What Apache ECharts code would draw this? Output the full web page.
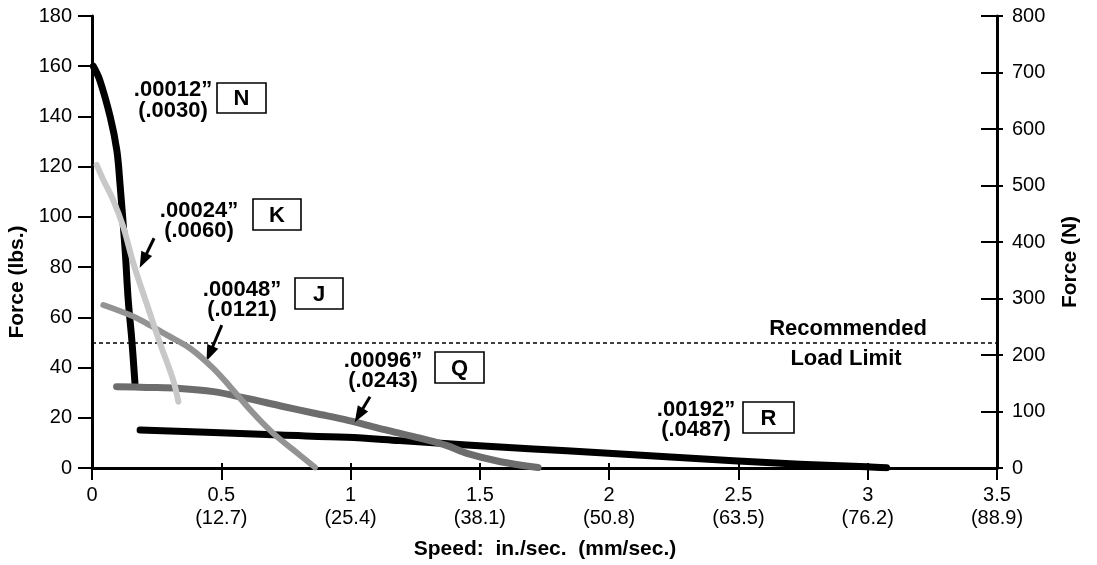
<!DOCTYPE html>
<html>
<head>
<meta charset="utf-8">
<script src="https://cdn.jsdelivr.net/npm/echarts@6/dist/echarts.min.js"></script>
<style>
html,body{margin:0;padding:0;background:#fff;}
#chart{width:1097px;height:565px;}
</style>
</head>
<body>
<div id="chart"></div>
<script>
// ---- data (speed in./sec., force lbs.) ----
const xTicks = [0, 0.5, 1, 1.5, 2, 2.5, 3, 3.5];
const xTicksMm = ['', '(12.7)', '(25.4)', '(38.1)', '(50.8)', '(63.5)', '(76.2)', '(88.9)'];
const seriesN = [[0.005,160],[0.03,154.5],[0.07,140],[0.096,126.5],[0.108,113.5],[0.128,87],[0.14,67],[0.154,51],[0.166,34]];
const seriesK = [[0.018,120.7],[0.044,114.7],[0.082,106.7],[0.121,96],[0.16,81.5],[0.211,65.6],[0.263,49.7],[0.314,35],[0.334,26.4]];
const seriesJ = [[0.044,64.9],[0.147,60.9],[0.211,57.6],[0.289,53],[0.379,47.7],[0.469,39.7],[0.534,32.4],[0.624,21.8],[0.701,13.8],[0.779,7.2],[0.862,0.3]];
const seriesQ = [[0.095,32.4],[0.21,32.1],[0.34,31.7],[0.47,30.4],[0.6,27.7],[0.73,24.7],[0.86,21.8],[0.99,19],[1.11,15.8],[1.24,12.6],[1.37,9],[1.45,5.8],[1.58,2.5],[1.725,0.2]];
const seriesR = [[0.186,15.1],[0.469,14.1],[0.727,13.1],[0.985,12.2],[1.19,10.9],[1.449,9.2],[1.707,7.6],[1.965,6.1],[2.222,4.5],[2.48,2.9],[2.738,1.5],[2.996,0.5],[3.073,0.1]];
const loadLimit = 50;
// arrows: [tail, head-centre]
const arrowK = [[0.240,91.5],[0.198,82.6]];
const arrowJ = [[0.502,56.9],[0.455,45.5]];
const arrowQ = [[1.075,28.4],[1.032,21.0]];
const labels = [
  {top: '.00012\u201D', bottom: '(.0030)', code: 'N'},
  {top: '.00024\u201D', bottom: '(.0060)', code: 'K'},
  {top: '.00048\u201D', bottom: '(.0121)', code: 'J'},
  {top: '.00096\u201D', bottom: '(.0243)', code: 'Q'},
  {top: '.00192\u201D', bottom: '(.0487)', code: 'R'}
];

const FONT = '"Liberation Sans", Arial, Helvetica, sans-serif';
const chart = echarts.init(document.getElementById('chart'));

function lineSeries(name, data, color, width, z) {
  return {
    name, type: 'line', data, smooth: 0.35, showSymbol: false, symbol: 'none',
    z, silent: true,
    lineStyle: {color, width, cap: 'round', join: 'round'}
  };
}

// label placement (pixels)
const labelPos = [
  {tx: 173, ty: 100.5, bx: 217, by: 83, bw: 49, bh: 30},
  {tx: 199, ty: 221, bx: 253, by: 199, bw: 48, bh: 31},
  {tx: 242, ty: 300, bx: 295, by: 278, bw: 48, bh: 31},
  {tx: 383, ty: 371, bx: 435, by: 352, bw: 49, bh: 31},
  {tx: 696, ty: 420, bx: 743, by: 402, bw: 51, bh: 31}
];
const graphics = [];
labels.forEach((l, i) => {
  const p = labelPos[i];
  graphics.push({
    type: 'text', x: p.tx, y: p.ty, z: 100,
    style: {text: l.top + '\n' + l.bottom, font: 'bold 22px ' + FONT, fill: '#000',
      textAlign: 'center', textVerticalAlign: 'middle', lineHeight: 20.5}
  });
  graphics.push({
    type: 'rect', shape: {x: p.bx, y: p.by, width: p.bw, height: p.bh}, z: 100,
    style: {fill: '#fff', stroke: '#000', lineWidth: 1.6}
  });
  graphics.push({
    type: 'text', x: p.bx + p.bw / 2, y: p.by + p.bh / 2 + 1, z: 101,
    style: {text: l.code, font: 'bold 22px ' + FONT, fill: '#000', textAlign: 'center', textVerticalAlign: 'middle'}
  });
});
graphics.push({type: 'text', x: 848, y: 329, z: 100,
  style: {text: 'Recommended', font: 'bold 22px ' + FONT, fill: '#000', textAlign: 'center', textVerticalAlign: 'middle'}});
graphics.push({type: 'text', x: 846, y: 359, z: 100,
  style: {text: 'Load Limit', font: 'bold 22px ' + FONT, fill: '#000', textAlign: 'center', textVerticalAlign: 'middle'}});
graphics.push({type: 'text', x: 17, y: 282, rotation: Math.PI / 2, z: 100,
  style: {text: 'Force (lbs.)', font: 'bold 21px ' + FONT, fill: '#000', textAlign: 'center', textVerticalAlign: 'middle'}});
graphics.push({type: 'text', x: 1070, y: 262, rotation: Math.PI / 2, z: 100,
  style: {text: 'Force (N)', font: 'bold 21px ' + FONT, fill: '#000', textAlign: 'center', textVerticalAlign: 'middle'}});
graphics.push({type: 'text', x: 545, y: 549, z: 100,
  style: {text: 'Speed:  in./sec.  (mm/sec.)', font: 'bold 21px ' + FONT, fill: '#000', textAlign: 'center', textVerticalAlign: 'middle'}});

const ARROW_HEAD = 'path://M6,0 L12,16 L0,16 Z';

const option = {
  animation: false,
  backgroundColor: '#fff',
  grid: {left: 92, right: 100, top: 16, bottom: 97, containLabel: false, outerBoundsMode: 'none'},
  xAxis: [{
    type: 'value', min: 0, max: 3.5, interval: 0.5, position: 'bottom',
    splitLine: {show: false},
    axisLine: {show: true, onZero: false, lineStyle: {color: '#000', width: 3}},
    axisTick: {show: true, inside: false, length: 12, lineStyle: {color: '#000', width: 2}},
    axisLabel: {
      margin: 16, color: '#000', fontFamily: FONT, fontSize: 20, lineHeight: 23,
      formatter: v => {
        const i = xTicks.findIndex(t => Math.abs(t - v) < 1e-6);
        const mm = i >= 0 ? xTicksMm[i] : '';
        return mm ? (String(v) + '\n' + mm) : String(v);
      }
    }
  }, {
    type: 'value', min: 0, max: 3.5, interval: 0.5, position: 'bottom',
    splitLine: {show: false}, axisLine: {show: false, onZero: false},
    axisTick: {show: true, inside: true, length: 5, lineStyle: {color: '#000', width: 2}},
    axisLabel: {show: false}
  }],
  yAxis: [{
    type: 'value', min: 0, max: 180, interval: 20, position: 'left',
    splitLine: {show: false},
    axisLine: {show: true, onZero: false, lineStyle: {color: '#000', width: 3}},
    axisTick: {show: true, inside: false, length: 14, lineStyle: {color: '#000', width: 2}},
    axisLabel: {margin: 20, color: '#000', fontFamily: FONT, fontSize: 20}
  }, {
    type: 'value', min: 0, max: 800, interval: 100, position: 'right',
    splitLine: {show: false},
    axisLine: {show: true, onZero: false, lineStyle: {color: '#000', width: 3}},
    axisTick: {show: true, inside: true, length: 16, lineStyle: {color: '#000', width: 2}},
    axisLabel: {margin: 15, color: '#000', fontFamily: FONT, fontSize: 20}
  }, {
    type: 'value', min: 0, max: 800, interval: 100, position: 'right',
    splitLine: {show: false}, axisLine: {show: false, onZero: false},
    axisTick: {show: true, inside: false, length: 6, lineStyle: {color: '#000', width: 2}},
    axisLabel: {show: false}
  }],
  series: [
    Object.assign(lineSeries('R', seriesR, '#000000', 7, 2), {
      markLine: {
        silent: true, symbol: 'none', animation: false,
        lineStyle: {color: '#000', width: 1.5, type: [4, 3]},
        label: {show: false},
        data: [{yAxis: loadLimit}]
      }
    }),
    lineSeries('N', seriesN, '#000000', 7, 3),
    lineSeries('Q', seriesQ, '#6d6d6d', 7, 4),
    lineSeries('J', seriesJ, '#939393', 6, 5),
    lineSeries('K', seriesK, '#c8c8c8', 6, 6),
    {
      type: 'line', data: [], z: 10, silent: true,
      markLine: {
        silent: true, symbol: ['none', ARROW_HEAD], symbolSize: [12, 16], animation: false,
        lineStyle: {color: '#000', width: 3, type: 'solid'},
        label: {show: false},
        data: [arrowK, arrowJ, arrowQ].map(a => [{coord: a[0]}, {coord: a[1]}])
      }
    }
  ],
  graphic: graphics
};
chart.setOption(option);
</script>
</body>
</html>
